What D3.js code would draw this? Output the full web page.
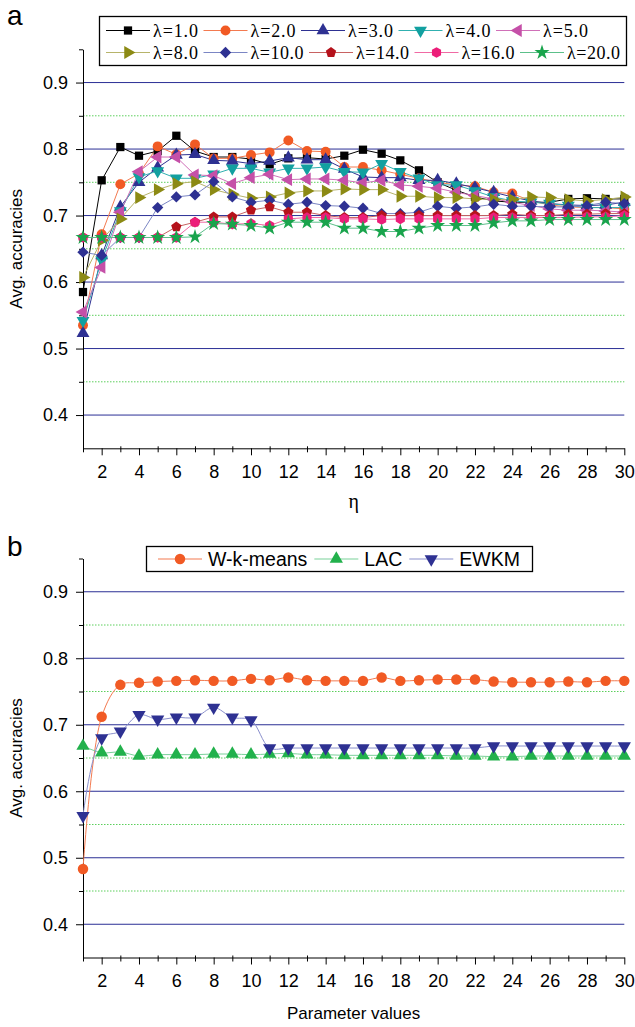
<!DOCTYPE html>
<html>
<head>
<meta charset="utf-8">
<script src="https://cdn.jsdelivr.net/npm/d3@7"></script>
<style>
  body { margin: 0; background: #fff; }
  svg { display: block; }
  text { font-family: "Liberation Sans", Arial, sans-serif; fill: #000; }
</style>
</head>
<body>
<script>
// accuracy curves, two panels (a: lambda sweep over eta, b: three methods)

// x categories (parameter / eta values)
var params = [1,2,3,4,5,6,7,8,9,10,11,12,13,14,15,16,17,18,19,20,21,22,23,24,25,26,27,28,29,30];
var xTicks = [2,4,6,8,10,12,14,16,18,20,22,24,26,28,30];
var xMinor = [1,3,5,7,9,11,13,15,17,19,21,23,25,27,29];
var yTicks = [0.4,0.5,0.6,0.7,0.8,0.9];
var yMinor = [0.45,0.55,0.65,0.75,0.85,0.95];

// panel a series
var lambdaNames = ["λ=1.0","λ=2.0","λ=3.0","λ=4.0","λ=5.0","λ=8.0","λ=10.0","λ=14.0","λ=16.0","λ=20.0"];
var lam1  = [0.585,0.753,0.803,0.790,0.797,0.820,0.797,0.788,0.788,0.785,0.777,0.786,0.787,0.785,0.790,0.799,0.793,0.783,0.768,0.750,0.738,0.728,0.722,0.720,0.720,0.720,0.725,0.726,0.725,0.725];
var lam2  = [0.535,0.672,0.747,0.763,0.804,0.792,0.807,0.786,0.786,0.791,0.795,0.813,0.797,0.796,0.773,0.773,0.768,0.762,0.756,0.750,0.746,0.744,0.735,0.733,0.722,0.716,0.713,0.712,0.712,0.710];
var lam3  = [0.523,0.640,0.713,0.750,0.772,0.791,0.792,0.783,0.782,0.778,0.782,0.787,0.784,0.784,0.770,0.758,0.757,0.757,0.753,0.753,0.748,0.742,0.735,0.728,0.722,0.718,0.716,0.715,0.716,0.720];
var lam4  = [0.542,0.633,0.707,0.758,0.767,0.756,0.756,0.762,0.771,0.771,0.765,0.771,0.771,0.773,0.766,0.765,0.778,0.766,0.756,0.746,0.746,0.737,0.728,0.722,0.720,0.718,0.715,0.712,0.712,0.712];
var lam5  = [0.555,0.622,0.705,0.766,0.788,0.788,0.761,0.760,0.748,0.757,0.762,0.754,0.755,0.755,0.753,0.749,0.753,0.746,0.744,0.741,0.735,0.730,0.725,0.720,0.715,0.710,0.708,0.708,0.707,0.705];
var lam8  = [0.607,0.663,0.695,0.727,0.739,0.748,0.751,0.739,0.732,0.726,0.728,0.734,0.737,0.737,0.740,0.739,0.739,0.729,0.729,0.727,0.727,0.725,0.724,0.724,0.728,0.727,0.724,0.722,0.724,0.728];
var lam10 = [0.645,0.640,0.667,0.667,0.712,0.728,0.731,0.751,0.728,0.720,0.723,0.717,0.720,0.715,0.714,0.711,0.703,0.703,0.705,0.714,0.711,0.713,0.717,0.714,0.714,0.713,0.713,0.715,0.720,0.718];
var lam14 = [0.667,0.667,0.667,0.667,0.667,0.683,0.690,0.698,0.698,0.708,0.713,0.705,0.705,0.700,0.697,0.697,0.700,0.700,0.700,0.700,0.700,0.700,0.700,0.702,0.700,0.700,0.702,0.702,0.703,0.703];
var lam16 = [0.667,0.667,0.667,0.667,0.667,0.667,0.690,0.690,0.687,0.688,0.685,0.695,0.697,0.697,0.695,0.695,0.694,0.695,0.695,0.695,0.695,0.695,0.697,0.697,0.697,0.697,0.697,0.698,0.698,0.700];
var lam20 = [0.667,0.667,0.667,0.667,0.667,0.667,0.668,0.688,0.687,0.685,0.681,0.690,0.690,0.690,0.681,0.681,0.676,0.676,0.681,0.685,0.685,0.685,0.689,0.692,0.692,0.694,0.694,0.694,0.694,0.694];

// panel b series
var methodNames = ["W-k-means","LAC","EWKM"];
var wkmeans = [0.483,0.712,0.760,0.763,0.765,0.766,0.767,0.766,0.766,0.769,0.767,0.771,0.767,0.766,0.766,0.766,0.771,0.766,0.767,0.768,0.768,0.768,0.765,0.764,0.764,0.764,0.765,0.764,0.766,0.766];
var lac     = [0.668,0.658,0.659,0.653,0.655,0.655,0.655,0.656,0.656,0.655,0.656,0.657,0.655,0.655,0.654,0.654,0.654,0.654,0.654,0.654,0.653,0.653,0.652,0.652,0.653,0.653,0.653,0.653,0.653,0.653];
var ewkm    = [0.563,0.680,0.690,0.715,0.708,0.711,0.711,0.726,0.711,0.707,0.665,0.665,0.665,0.665,0.665,0.665,0.665,0.665,0.665,0.665,0.665,0.665,0.668,0.668,0.668,0.668,0.668,0.668,0.668,0.668];

// ---- custom marker shapes (d3 symbol types) ----
function polygonSymbol(n){
  return {
    draw: function(ctx, size){
      var r = Math.sqrt(size / (0.5 * n * Math.sin(2 * Math.PI / n)));
      for (var i = 0; i < n; i++){
        var a = -Math.PI / 2 + i * 2 * Math.PI / n;
        if (i === 0) ctx.moveTo(r * Math.cos(a), r * Math.sin(a));
        else ctx.lineTo(r * Math.cos(a), r * Math.sin(a));
      }
      ctx.closePath();
    }
  };
}

// style for each lambda series: marker fill, line colour, shape, rotation
var lambdaStyle = [
  {fill:"#000000", line:"#000000", shape:d3.symbolSquare,   rot:0,   size:68},
  {fill:"#f15a24", line:"#f37a50", shape:d3.symbolCircle,   rot:0,   size:78},
  {fill:"#2e3192", line:"#2e3192", shape:d3.symbolTriangle, rot:0,   size:72},
  {fill:"#12a0a0", line:"#30b0b0", shape:d3.symbolTriangle, rot:180, size:72},
  {fill:"#c550a8", line:"#d070b8", shape:d3.symbolTriangle, rot:-90, size:72},
  {fill:"#8c8a14", line:"#b7b46a", shape:d3.symbolTriangle, rot:90,  size:72},
  {fill:"#2e3192", line:"#7b86c4", shape:d3.symbolSquare,   rot:45,  size:64},
  {fill:"#b5121b", line:"#c86262", shape:polygonSymbol(5),  rot:0,   size:70},
  {fill:"#ec1e79", line:"#f06aa4", shape:polygonSymbol(6),  rot:0,   size:72},
  {fill:"#19a44c", line:"#5cc08a", shape:d3.symbolStar,     rot:0,   size:70}
];
var methodStyle = [
  {fill:"#f15a24", line:"#f37a50", shape:d3.symbolCircle,   rot:0,   size:86},
  {fill:"#22b14c", line:"#7ad19a", shape:d3.symbolTriangle, rot:0,   size:76},
  {fill:"#2e3192", line:"#8a8fcc", shape:d3.symbolTriangle, rot:180, size:76}
];

var width = 635, height = 1027;

var svg = d3.select("body").append("svg")
  .attr("width", width)
  .attr("height", height);

var x = d3.scaleLinear().domain([1, 30]).range([83, 624.3]);

function drawPanel(opts){
  var y = d3.scaleLinear().domain([0.35, 0.95]).range([opts.bottom, opts.top]);
  var g = svg.append("g");

  // minor gridlines (green dotted)
  g.selectAll(".minorGrid")
    .data(yMinor.filter(function(v){ return v < 0.95; }))
    .enter().append("line")
    .attr("x1", x(1)).attr("x2", x(30))
    .attr("y1", function(d){ return y(d); }).attr("y2", function(d){ return y(d); })
    .attr("stroke", "#5ccf5c").attr("stroke-width", 1)
    .attr("stroke-dasharray", "1.5,1.5");

  // major gridlines (blue)
  g.selectAll(".majorGrid")
    .data(yTicks).enter().append("line")
    .attr("x1", x(1)).attr("x2", x(30))
    .attr("y1", function(d){ return y(d); }).attr("y2", function(d){ return y(d); })
    .attr("stroke", "#2b2f95").attr("stroke-width", 1);

  // y axis
  var yAxis = g.append("g").attr("transform", "translate(" + x(1) + ",0)")
    .call(d3.axisLeft(y).tickValues(yTicks).tickFormat(d3.format(".1f")).tickSizeInner(7).tickSizeOuter(0).tickPadding(8));
  yAxis.append("g").call(d3.axisLeft(y).tickValues(yMinor).tickFormat("").tickSize(4))
    .select(".domain").remove();
  yAxis.selectAll("text").style("font-size", "18px").style("font-family", "'Liberation Sans', Arial, sans-serif");

  // x axis
  var xAxis = g.append("g").attr("transform", "translate(0," + opts.bottom + ")")
    .call(d3.axisBottom(x).tickValues(xTicks).tickSizeInner(7).tickSizeOuter(0).tickPadding(10));
  var xm = xAxis.append("g").call(d3.axisBottom(x).tickValues(xMinor).tickFormat("").tickSize(4));
  xm.select(".domain").remove();
  xm.selectAll(".tick line").attr("y1", -2);
  xAxis.selectAll("text").style("font-size", "18px").style("font-family", "'Liberation Sans', Arial, sans-serif");
  g.selectAll(".domain").attr("stroke", "#000");
  g.selectAll(".tick line").attr("stroke", "#000");

  // series lines then markers
  opts.series.forEach(function(vals, i){
    var st = opts.styles[i];
    var line = d3.line()
      .x(function(d, k){ return x(params[k]); })
      .y(function(d){ return y(d); })
      .curve(opts.curve);
    g.append("path").datum(vals)
      .attr("d", line)
      .attr("fill", "none")
      .attr("stroke", st.line)
      .attr("stroke-width", 1);
  });
  opts.series.forEach(function(vals, i){
    var st = opts.styles[i];
    var sym = d3.symbol().type(st.shape).size(st.size);
    g.selectAll(".m" + i).data(vals).enter().append("path")
      .attr("d", sym)
      .attr("transform", function(d, k){
        return "translate(" + x(params[k]) + "," + y(d) + ") rotate(" + st.rot + ")";
      })
      .attr("fill", st.fill);
  });

  // axis titles
  g.append("text")
    .attr("transform", "translate(22," + y(0.65) + ") rotate(-90)")
    .attr("text-anchor", "middle")
    .style("font-size", "17px")
    .text("Avg. accuracies");
  g.append("text")
    .attr("x", (x(1) + x(30)) / 2)
    .attr("y", opts.bottom + opts.titleDy)
    .attr("text-anchor", "middle")
    .style("font-size", opts.titleSize)
    .style("font-family", opts.titleFont)
    .text(opts.xTitle);

  // panel letter
  g.append("text")
    .attr("x", 7).attr("y", opts.letterY)
    .style("font-size", "28px")
    .text(opts.letter);
  return g;
}

// ---- panel a ----
var gA = drawPanel({
  top: 49.3, bottom: 448.3,
  series: [lam1, lam2, lam3, lam4, lam5, lam8, lam10, lam14, lam16, lam20],
  styles: lambdaStyle,
  curve: d3.curveLinear,
  xTitle: "η", titleDy: 60, titleSize: "20px", titleFont: "'Liberation Serif', serif",
  letter: "a", letterY: 25
});

// legend a (two rows, serif)
var legA = svg.append("g");
legA.append("rect")
  .attr("x", 99.5).attr("y", 16.5).attr("width", 527).attr("height", 49)
  .attr("fill", "#fff").attr("stroke", "#000").attr("stroke-width", 1.3);
[[0,1,2,3,4],[5,6,7,8,9]].forEach(function(row, r){
  var cx = 106, cy = r === 0 ? 30.5 : 52.5;
  row.forEach(function(idx){
    var st = lambdaStyle[idx];
    var tw = lambdaNames[idx].length > 5 ? 53 : 45;
    legA.append("line").attr("x1", cx).attr("x2", cx + 44).attr("y1", cy).attr("y2", cy)
      .attr("stroke", st.line).attr("stroke-width", 1.2);
    legA.append("path").attr("d", d3.symbol().type(st.shape).size(st.size)())
      .attr("transform", "translate(" + (cx + 22) + "," + cy + ") rotate(" + st.rot + ")")
      .attr("fill", st.fill);
    legA.append("text").attr("x", cx + 47).attr("y", cy + 6)
      .attr("textLength", tw).attr("lengthAdjust", "spacing")
      .style("font-family", "'Liberation Serif', 'Times New Roman', serif")
      .style("font-size", "18px")
      .text(lambdaNames[idx]);
    cx = cx + 47 + tw + 5.5;
  });
});

// ---- panel b ----
var gB = drawPanel({
  top: 558.5, bottom: 957.5,
  series: [wkmeans, lac, ewkm],
  styles: methodStyle,
  curve: d3.curveCatmullRom,
  xTitle: "Parameter values", titleDy: 61, titleSize: "17px", titleFont: "'Liberation Sans', Arial, sans-serif",
  letter: "b", letterY: 556
});

// legend b
var legB = svg.append("g");
legB.append("rect")
  .attr("x", 146.5).attr("y", 546.5).attr("width", 386).attr("height", 25)
  .attr("fill", "#fff").attr("stroke", "#000").attr("stroke-width", 1.3);
var bx = 158, by = 559;
methodNames.forEach(function(name, i){
  var st = methodStyle[i];
  legB.append("line").attr("x1", bx).attr("x2", bx + 44).attr("y1", by).attr("y2", by)
    .attr("stroke", st.line).attr("stroke-width", 1.2);
  legB.append("path").attr("d", d3.symbol().type(st.shape).size(st.size)())
    .attr("transform", "translate(" + (bx + 22) + "," + by + ") rotate(" + st.rot + ")")
    .attr("fill", st.fill);
  var t = legB.append("text").attr("x", bx + 50).attr("y", by + 7)
    .style("font-size", "19.5px")
    .text(name);
  bx = bx + 50 + t.node().getComputedTextLength() + 7;
});
</script>
</body>
</html>
